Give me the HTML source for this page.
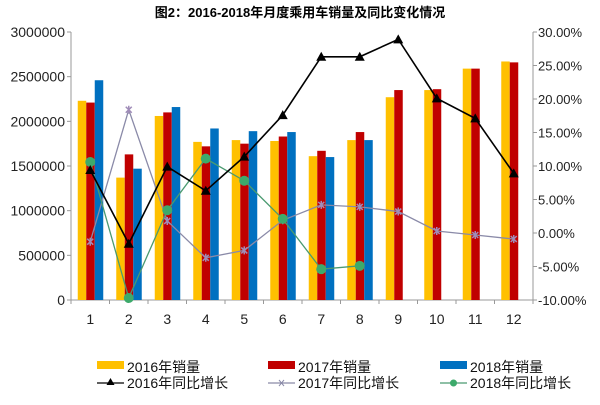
<!DOCTYPE html>
<html><head><meta charset="utf-8"><style>
body{margin:0;background:#fff;width:600px;height:400px;overflow:hidden}
text{font-family:"Liberation Sans","Noto Sans CJK SC",sans-serif}
</style></head><body>
<svg id="c" width="600" height="400" xmlns="http://www.w3.org/2000/svg">
<text x="300" y="17" text-anchor="middle" font-size="13" font-weight="bold" fill="#000">图2：2016-2018年月度乘用车销量及同比变化情况</text>
<g id="g"></g>
</svg>
<script>
const categories=["1","2","3","4","5","6","7","8","9","10","11","12"];
const sales2016=[2230000,1370000,2060000,1770000,1790000,1780000,1610000,1790000,2270000,2350000,2590000,2670000];
const sales2017=[2210000,1630000,2100000,1720000,1750000,1830000,1670000,1880000,2350000,2360000,2590000,2660000];
const sales2018=[2460000,1470000,2160000,1920000,1890000,1880000,1600000,1790000];
const growth2016=[9.4,-1.6,9.9,6.3,11.4,17.6,26.3,26.3,28.9,20.1,17.1,8.9];
const growth2017=[-1.3,18.4,1.8,-3.7,-2.6,1.9,4.2,3.9,3.2,0.3,-0.3,-0.9];
const growth2018=[10.6,-9.7,3.4,11.1,7.8,2.1,-5.4,-4.9];
const leftTicks=[0,500000,1000000,1500000,2000000,2500000,3000000];
const rightTicks=[-10,-5,0,5,10,15,20,25,30];

const NS="http://www.w3.org/2000/svg",g=document.getElementById('g');
const X0=71,X1=533,YT=32,YB=300,cw=(X1-X0)/categories.length;
const yL=v=>YB-(v/3000000)*(YB-YT);
const yR=v=>YB-((v+10)/40)*(YB-YT);
const xc=i=>X0+cw*(i+0.5);
function el(t,a,p){const e=document.createElementNS(NS,t);for(const k in a)e.setAttribute(k,a[k]);(p||g).appendChild(e);return e;}
// axes
let a=el('line',{x1:X0,y1:YT,x2:X0,y2:YB,stroke:'#999'});


a=el('line',{x1:X1,y1:YT,x2:X1,y2:YB,stroke:'#999'});


a=el('line',{x1:X0,y1:YB,x2:X1,y2:YB,stroke:'#999'});


leftTicks.forEach(v=>{const y=yL(v);el('line',{x1:X0-4,y1:y,x2:X0,y2:y,stroke:'#999'});
const t=el('text',{x:X0-6,y:y+5,'text-anchor':'end','font-size':14,fill:'#222'});t.textContent=v;

});
rightTicks.forEach(v=>{const y=yR(v);el('line',{x1:X1,y1:y,x2:X1+4,y2:y,stroke:'#999'});
const t=el('text',{x:X1+5,y:y+5,'font-size':13,fill:'#222','font-family':'Liberation Mono'});t.textContent=v.toFixed(2)+'%';

});
for(let i=0;i<=categories.length;i++){const x=X0+cw*i;el('line',{x1:x,y1:YB,x2:x,y2:YB+4,stroke:'#999'});}
categories.forEach((c,i)=>{const t=el('text',{x:xc(i),y:YB+24,'text-anchor':'middle','font-size':14,fill:'#222','font-family':'Liberation Serif'});t.textContent=c;

});
// bars
const bw=8.5,series=[[sales2016,'#FFC000','2016'],[sales2017,'#C00000','2017'],[sales2018,'#0070C0','2018']];
series.forEach(([d,col,n],s)=>d.forEach((v,i)=>{const x=xc(i)-12.5+s*bw;
const r=el('rect',{x:x,y:yL(v),width:bw,height:YB-yL(v),fill:col});

}));
// lines
function line(d,col,n,marker,w){const pts=d.map((v,i)=>xc(i)+','+yR(v)).join(' ');
const p=el('polyline',{points:pts,fill:'none',stroke:col,'stroke-width':w});


d.forEach((v,i)=>{const x=xc(i),y=yR(v);let m;
if(marker=='tri')m=el('polygon',{points:`${x},${y-5} ${x-5},${y+4} ${x+5},${y+4}`,fill:'#000'});
else if(marker=='x')m=el('path',{d:`M${x-3},${y-3}L${x+3},${y+3}M${x-3},${y+3}L${x+3},${y-3}M${x},${y-4}L${x},${y+4}`,stroke:'#a08cb8','stroke-width':1.5});
else m=el('circle',{cx:x,cy:y,r:5,fill:'#3daa6b'});

});}
line(growth2017,'#8a8aa8','2017','x',1.3);
line(growth2018,'#4a9a70','2018','dot',1.3);
line(growth2016,'#000','2016','tri',1.6);
// legend
const lg=[[97,372,'#FFC000','2016年销量','rect'],[268,372,'#C00000','2017年销量','rect'],[440,372,'#0070C0','2018年销量','rect'],
[97,388,'#000','2016年同比增长','tri'],[268,388,'#8a8aa8','2017年同比增长','x'],[440,388,'#4a9a70','2018年同比增长','dot']];
lg.forEach(([x,y,col,txt,k])=>{const gg=el('g',{});


if(k=='rect')el('rect',{x:x,y:y-11,width:27,height:8,fill:col},gg);
else{el('line',{x1:x,y1:y-5,x2:x+27,y2:y-5,stroke:col,'stroke-width':1.3},gg);
if(k=='tri')el('polygon',{points:`${x+13.5},${y-10} ${x+9.5},${y-3} ${x+17.5},${y-3}`,fill:'#000'},gg);
else if(k=='dot')el('circle',{cx:x+13.5,cy:y-5,r:3.5,fill:'#3daa6b'},gg);
else el('path',{d:`M${x+11},${y-8}L${x+16},${y-2}M${x+11},${y-2}L${x+16},${y-8}`,stroke:col},gg);}
const t=el('text',{x:x+30,y:y,'font-size':14,fill:'#111'},gg);t.textContent=txt;});
</script>
</body></html>
